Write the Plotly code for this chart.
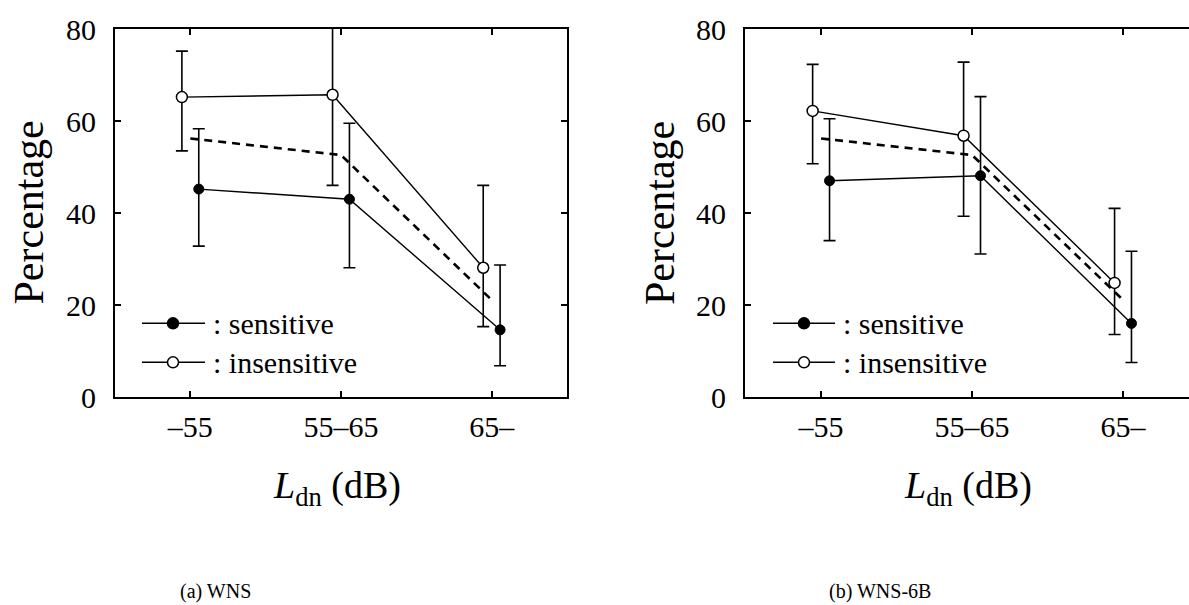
import plotly.graph_objects as go

# Noise-level classes (L_dn, dB) on the horizontal axis
categories = ["–55", "55–65", "65–"]

# (a) WNS: percentage with error-bar ends
wns_sensitive = [45.2, 43.0, 14.6]
wns_sensitive_hi = [58.3, 59.5, 28.7]
wns_sensitive_lo = [32.8, 28.1, 6.8]
wns_insensitive = [65.2, 65.7, 28.1]
wns_insensitive_hi = [75.2, 85.4, 46.0]
wns_insensitive_lo = [53.5, 46.0, 15.3]

# (b) WNS-6B
b6_sensitive = [47.0, 48.1, 16.0]
b6_sensitive_hi = [60.5, 65.3, 31.7]
b6_sensitive_lo = [34.0, 31.1, 7.5]
b6_insensitive = [62.2, 56.8, 24.8]
b6_insensitive_hi = [72.3, 72.8, 41.0]
b6_insensitive_lo = [50.7, 39.3, 13.6]

# Overall curve (dashed) drawn in both panels
overall = [56.2, 52.6, 21.1]

y_ticks = [0, 20, 40, 60, 80]
legend_labels = [": sensitive", ": insensitive"]
captions = ["(a) WNS", "(b) WNS-6B"]

W, H = 1189, 605
SERIF = "Liberation Serif, Times New Roman, Times, serif"
OFFSET = 0.056


def px_x(p):
    return p / W


def px_y(p):
    return 1 - p / H


fig = go.Figure()

panels = [
    (wns_sensitive, wns_sensitive_hi, wns_sensitive_lo,
     wns_insensitive, wns_insensitive_hi, wns_insensitive_lo, "x", "y"),
    (b6_sensitive, b6_sensitive_hi, b6_sensitive_lo,
     b6_insensitive, b6_insensitive_hi, b6_insensitive_lo, "x2", "y2"),
]

for (s, s_hi, s_lo, ins, i_hi, i_lo, xa, ya) in panels:
    pos = list(range(len(categories)))
    # dashed overall line at category centres
    fig.add_trace(go.Scatter(
        x=pos, y=overall, mode="lines", xaxis=xa, yaxis=ya,
        line=dict(color="black", width=2.6, dash="8px,6px"),
        showlegend=False, hoverinfo="skip"))
    # insensitive (open circles), shifted left
    fig.add_trace(go.Scatter(
        x=[p - OFFSET for p in pos], y=ins, mode="lines+markers",
        xaxis=xa, yaxis=ya,
        line=dict(color="black", width=1.4),
        marker=dict(symbol="circle", size=11, color="white",
                    line=dict(color="black", width=1.5)),
        error_y=dict(type="data", symmetric=False,
                     array=[h - v for h, v in zip(i_hi, ins)],
                     arrayminus=[v - l for l, v in zip(i_lo, ins)],
                     color="black", thickness=1.6, width=6),
        showlegend=False))
    # sensitive (filled circles), shifted right
    fig.add_trace(go.Scatter(
        x=[p + OFFSET for p in pos], y=s, mode="lines+markers",
        xaxis=xa, yaxis=ya,
        line=dict(color="black", width=1.4),
        marker=dict(symbol="circle", size=10, color="black",
                    line=dict(color="black", width=1)),
        error_y=dict(type="data", symmetric=False,
                     array=[h - v for h, v in zip(s_hi, s)],
                     arrayminus=[v - l for l, v in zip(s_lo, s)],
                     color="black", thickness=1.6, width=6),
        showlegend=False))

axis_common = dict(
    showgrid=False, zeroline=False, showline=True, linecolor="black",
    linewidth=2, ticks="inside", ticklen=6, tickwidth=2, tickcolor="black",
    automargin=False,
    tickfont=dict(family=SERIF, size=30, color="black"),
)

y_top, y_bot = 29, 397
ydom = [px_y(y_bot), px_y(y_top)]

fig.update_layout(
    width=W, height=H,
    margin=dict(l=0, r=0, t=0, b=0, pad=0, autoexpand=False),
    paper_bgcolor="white", plot_bgcolor="white",
    font=dict(family=SERIF, color="black"),
    xaxis=dict(domain=[px_x(115), px_x(567)], range=[-0.5, 2.5],
               tickvals=[0, 1, 2], ticktext=categories, mirror="ticks",
               ticklabelstandoff=2, anchor="y", **axis_common),
    yaxis=dict(domain=ydom, range=[0, 80], tickvals=y_ticks,
               mirror="ticks", ticklabelstandoff=11, anchor="x", **axis_common),
    xaxis2=dict(domain=[px_x(745), 1.0], range=[-0.504, 2.437],
                tickvals=[0, 1, 2], ticktext=categories, mirror="ticks",
                ticklabelstandoff=2, anchor="y2", **axis_common),
    yaxis2=dict(domain=ydom, range=[0, 80], tickvals=y_ticks,
                mirror=False, ticklabelstandoff=11, anchor="x2", **axis_common),
)

annotations = []
shapes = []

# axis titles, captions and legend keys per panel
panel_geo = [
    dict(ytitle_x=28.5, xtitle_x=337, cap_x=215,
         leg_x0=142, leg_x1=205, leg_m=173, leg_t=211),
    dict(ytitle_x=660, xtitle_x=968, cap_x=880,
         leg_x0=773, leg_x1=835, leg_m=804, leg_t=841),
]
legend_rows = [323.3, 362.3]
legend_fill = ["black", "white"]

for g, cap in zip(panel_geo, captions):
    annotations.append(dict(
        text="Percentage", x=px_x(g["ytitle_x"]), y=px_y(213),
        xref="paper", yref="paper", xanchor="center", yanchor="middle",
        textangle=-90, showarrow=False,
        font=dict(family=SERIF, size=42, color="black")))
    annotations.append(dict(
        text="<i>L</i><sub>dn</sub> (dB)", x=px_x(g["xtitle_x"]), y=px_y(488),
        xref="paper", yref="paper", xanchor="center", yanchor="middle",
        showarrow=False, font=dict(family=SERIF, size=38, color="black")))
    annotations.append(dict(
        text=cap, x=px_x(g["cap_x"]), y=px_y(591),
        xref="paper", yref="paper", xanchor="center", yanchor="middle",
        showarrow=False, font=dict(family=SERIF, size=20, color="black")))
    for row_y, label, fill in zip(legend_rows, legend_labels, legend_fill):
        shapes.append(dict(
            type="line", xref="paper", yref="paper",
            x0=px_x(g["leg_x0"]), x1=px_x(g["leg_x1"]),
            y0=px_y(row_y), y1=px_y(row_y),
            line=dict(color="black", width=1.4)))
        shapes.append(dict(
            type="circle", xref="paper", yref="paper",
            xsizemode="pixel", ysizemode="pixel",
            xanchor=px_x(g["leg_m"]), yanchor=px_y(row_y),
            x0=-5.5, x1=5.5, y0=-5.5, y1=5.5,
            fillcolor=fill, line=dict(color="black", width=1.5)))
        annotations.append(dict(
            text=label, x=px_x(g["leg_t"]), y=px_y(row_y),
            xref="paper", yref="paper", xanchor="left", yanchor="middle",
            showarrow=False, font=dict(family=SERIF, size=30, color="black")))

fig.update_layout(annotations=annotations, shapes=shapes)

fig.write_html("out.html")
